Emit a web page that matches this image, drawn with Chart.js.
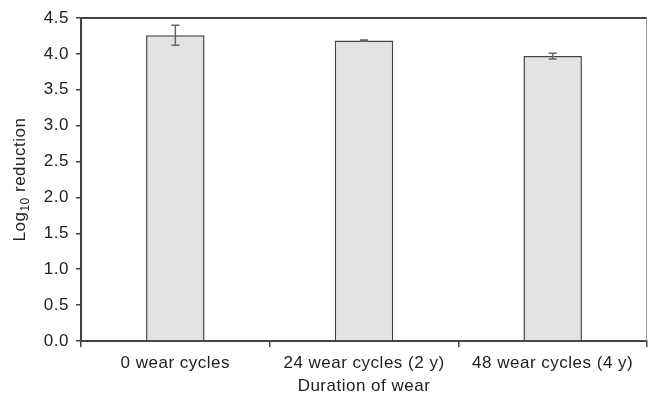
<!DOCTYPE html>
<html>
<head>
<meta charset="utf-8">
<script src="https://cdn.jsdelivr.net/npm/chart.js@4/dist/chart.umd.min.js"></script>
<style>
html,body{margin:0;padding:0;background:#fff;}
#wrap{width:648px;height:395px;}
</style>
</head>
<body>
<div id="wrap"><canvas id="c" width="648" height="395"></canvas></div>
<script>
const categories = ["0 wear cycles", "24 wear cycles (2 y)", "48 wear cycles (4 y)"];
const values = [4.26, 4.185, 3.97];
const errors = [0.14, 0.01, 0.04];
const yTicks = [0, 0.5, 1, 1.5, 2, 2.5, 3, 3.5, 4, 4.5];
const xTitle = "Duration of wear";
const yTitleMain = "Log";
const yTitleSub = "10";
const yTitleRest = " reduction";

const FONT = "'Liberation Sans', Arial, sans-serif";
const SPACING = '0.5px';

const spacing = {
  id: 'spacing',
  beforeUpdate(chart) { chart.ctx.letterSpacing = SPACING; },
  beforeLayout(chart) { chart.ctx.letterSpacing = SPACING; },
  beforeDraw(chart) { chart.ctx.letterSpacing = SPACING; }
};

const errorBars = {
  id: 'errorBars',
  afterDatasetsDraw(chart) {
    const ctx = chart.ctx;
    const meta = chart.getDatasetMeta(0);
    const ys = chart.scales.y;
    ctx.save();
    ctx.strokeStyle = '#666';
    ctx.lineWidth = 1.5;
    meta.data.forEach((bar, i) => {
      const x = bar.x;
      const yt = ys.getPixelForValue(values[i] + errors[i]);
      const yb = ys.getPixelForValue(values[i] - errors[i]);
      ctx.beginPath();
      ctx.moveTo(x, yt); ctx.lineTo(x, yb);
      ctx.moveTo(x - 4, yt); ctx.lineTo(x + 4, yt);
      ctx.moveTo(x - 4, yb); ctx.lineTo(x + 4, yb);
      ctx.stroke();
    });
    ctx.restore();
  }
};

const frame = {
  id: 'frame',
  afterDraw(chart) {
    const a = chart.chartArea;
    const ctx = chart.ctx;
    ctx.save();
    ctx.strokeStyle = '#444';
    ctx.lineWidth = 2;
    ctx.beginPath();
    ctx.moveTo(a.left, a.top); ctx.lineTo(a.right, a.top);
    ctx.stroke();
    ctx.strokeStyle = '#999';
    ctx.lineWidth = 1;
    ctx.beginPath();
    ctx.moveTo(a.right - 0.5, a.top); ctx.lineTo(a.right - 0.5, a.bottom);
    ctx.stroke();

    // y-axis title with subscript
    const cy = (a.top + a.bottom) / 2;
    ctx.letterSpacing = SPACING;
    ctx.fillStyle = '#222';
    ctx.textBaseline = 'alphabetic';
    ctx.textAlign = 'left';
    const fMain = "17px " + FONT, fSub = "12px " + FONT;
    ctx.font = fMain; const w1 = ctx.measureText(yTitleMain).width;
    const w3 = ctx.measureText(yTitleRest).width;
    ctx.font = fSub; const w2 = ctx.measureText(yTitleSub).width;
    const total = w1 + w2 + w3;
    ctx.translate(0, cy);
    ctx.rotate(-Math.PI / 2);
    const base = 25;
    let x0 = -total / 2;
    ctx.font = fMain; ctx.fillText(yTitleMain, x0, base); x0 += w1;
    ctx.font = fSub; ctx.fillText(yTitleSub, x0, base + 4); x0 += w2;
    ctx.font = fMain; ctx.fillText(yTitleRest, x0, base);
    ctx.restore();
  }
};

new Chart(document.getElementById('c'), {
  type: 'bar',
  data: {
    labels: categories,
    datasets: [{
      data: values,
      backgroundColor: '#e3e3e3',
      borderColor: '#444',
      borderWidth: 1.5,
      borderSkipped: 'bottom',
      categoryPercentage: 1.0,
      barPercentage: 0.31
    }]
  },
  options: {
    responsive: false,
    animation: false,
    devicePixelRatio: 1,
    layout: { padding: { top: 18, right: 1, left: 0, bottom: 0 } },
    plugins: { legend: { display: false }, tooltip: { enabled: false } },
    scales: {
      x: {
        offset: true,
        grid: { display: true, offset: true, drawOnChartArea: false, tickLength: 6, color: '#444', lineWidth: 1.5 },
        border: { display: true, color: '#444', width: 2 },
        ticks: { color: '#222', font: { family: FONT, size: 17 }, padding: 6, maxRotation: 0 },
        title: { display: true, text: xTitle, color: '#222', font: { family: FONT, size: 17, lineHeight: 1 }, padding: { top: -1, bottom: 0 } },
        afterFit(s) { s.height = 54; }
      },
      y: {
        min: 0, max: 4.5,
        afterBuildTicks(s) { s.ticks = yTicks.map(v => ({ value: v })); },
        grid: { display: true, drawOnChartArea: false, tickLength: 5, color: '#444', lineWidth: 1.5 },
        border: { display: true, color: '#444', width: 2 },
        ticks: { color: '#222', font: { family: FONT, size: 17 }, padding: 7, callback: v => Number(v).toFixed(1) },
        title: { display: false },
        afterFit(s) { s.width = 81; }
      }
    }
  },
  plugins: [spacing, errorBars, frame]
});
</script>
</body>
</html>
